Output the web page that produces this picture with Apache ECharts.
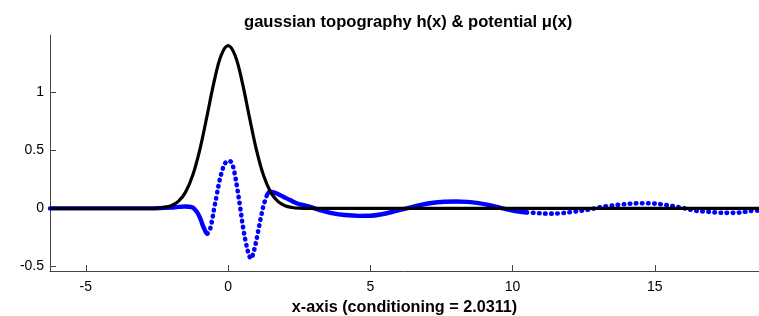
<!DOCTYPE html>
<html>
<head>
<meta charset="utf-8">
<script src="https://cdn.jsdelivr.net/npm/echarts@6/dist/echarts.min.js"></script>
<style>html,body{margin:0;padding:0;background:#fff;}#c{width:759px;height:316px;}</style>
</head>
<body>
<div id="c"></div>
<script>
// topography h(x)
var hX = [-6.26, -5, -4, -3.5, -3, -2.75, -2.5, -2.25, -2, -1.75, -1.5, -1.25, -1, -0.75, -0.5, -0.25, 0, 0.25, 0.5, 0.75, 1, 1.25, 1.5, 1.75, 2, 2.25, 2.5, 2.75, 3, 3.5, 4, 5, 7, 10, 14, 18.66];
var hY = [0, 0, 0, 0, 0, 0.001, 0.002, 0.008, 0.023, 0.060, 0.138, 0.280, 0.499, 0.784, 1.082, 1.313, 1.40, 1.313, 1.082, 0.784, 0.499, 0.280, 0.138, 0.060, 0.023, 0.008, 0.002, 0.001, 0, 0, 0, 0, 0, 0, 0, 0];

// potential mu(x), in four stretches
var muLeftX = [-6.26, -4, -3, -2.4, -2.0, -1.75, -1.5, -1.28, -1.10, -0.98, -0.87, -0.78, -0.73];
var muLeftY = [0, 0, 0, 0.003, 0.008, 0.013, 0.016, 0.012, -0.029, -0.086, -0.158, -0.205, -0.216];
var muCoreX = [-0.73, -0.67, -0.61, -0.54, -0.48, -0.40, -0.31, -0.22, -0.105, 0.03, 0.13, 0.23, 0.33, 0.43, 0.53, 0.63, 0.72, 0.80, 0.88, 0.97, 1.06, 1.15, 1.25, 1.35];
var muCoreY = [-0.216, -0.2, -0.158, -0.072, 0.014, 0.115, 0.23, 0.315, 0.388, 0.41, 0.39, 0.30, 0.16, 0.0, -0.17, -0.30, -0.39, -0.432, -0.39, -0.30, -0.19, -0.08, 0.03, 0.105];
var muMidX = [1.35, 1.47, 1.6, 1.71, 1.94, 2.18, 2.41, 2.65, 2.88, 3.23, 3.69, 4.1, 4.6, 5.0, 5.4, 5.81, 6.28, 6.74, 7.21, 7.6, 8.03, 8.4, 8.8, 9.09, 9.61, 10.0, 10.5];
var muMidY = [0.105, 0.143, 0.138, 0.129, 0.10, 0.072, 0.045, 0.028, 0.013, -0.014, -0.042, -0.057, -0.064, -0.063, -0.05, -0.028, 0, 0.029, 0.049, 0.057, 0.06, 0.056, 0.045, 0.032, 0.003, -0.018, -0.035];
var muTailX = [10.5, 10.96, 11.3, 11.66, 12.14, 12.73, 12.96, 13.31, 13.89, 14.36, 14.6, 14.89, 15.24, 15.63, 16.0, 16.44, 16.83, 17.23, 17.64, 17.9, 18.13, 18.35, 18.66];
var muTailY = [-0.033, -0.042, -0.045, -0.042, -0.028, -0.008, 0.005, 0.02, 0.035, 0.044, 0.045, 0.043, 0.035, 0.02, 0.003, -0.02, -0.028, -0.036, -0.038, -0.037, -0.03, -0.022, -0.018];

var xTicks = [-5, 0, 5, 10, 15];
var yTicks = [-0.5, 0, 0.5, 1];

function pairs(xs, ys) { return xs.map(function (x, i) { return [x, ys[i]]; }); }

var FONT = 'Liberation Sans, Arial, Helvetica, sans-serif';
var BLUE = '#0000ff';
function muSeries(xs, ys, dotted) {
  return {
    type: 'line', data: pairs(xs, ys), smooth: 0.35,
    showSymbol: false, silent: true,
    lineStyle: dotted
      ? { color: BLUE, width: 4.6, type: [0.5, 5.6], cap: 'round' }
      : { color: BLUE, width: 4.4, cap: 'round' }
  };
}

var chart = echarts.init(document.getElementById('c'), null, { renderer: 'canvas' });
chart.setOption({
  animation: false,
  backgroundColor: '#fff',
  title: {
    text: 'gaussian topography h(x) & potential \u03bc(x)',
    left: 239, top: 9,
    textStyle: { fontFamily: FONT, fontSize: 16.6, fontWeight: 'bold', color: '#000' }
  },
  grid: { left: 50, right: 0, top: 35, bottom: 45, containLabel: false, outerBoundsMode: 'none' },
  xAxis: {
    type: 'value', min: -6.26, max: 18.66,
    name: 'x-axis (conditioning = 2.0311)', nameLocation: 'middle', nameGap: 29,
    nameTextStyle: { fontFamily: FONT, fontSize: 16.2, fontWeight: 'bold', color: '#000' },
    axisLine: { show: true, onZero: false, lineStyle: { color: '#444', width: 1 } },
    axisTick: { show: true, inside: true, length: 6, customValues: xTicks, lineStyle: { color: '#444' } },
    axisLabel: { customValues: xTicks, margin: 9, fontFamily: FONT, fontSize: 14, color: '#000' },
    splitLine: { show: false }
  },
  yAxis: {
    type: 'value', min: -0.538, max: 1.491,
    axisLine: { show: true, onZero: false, lineStyle: { color: '#444', width: 1 } },
    axisTick: { show: true, inside: true, length: 6, customValues: yTicks, lineStyle: { color: '#444' } },
    axisLabel: { customValues: yTicks, margin: 6, fontFamily: FONT, fontSize: 14, color: '#000' },
    splitLine: { show: false }
  },
  series: [
    muSeries(muLeftX, muLeftY, false),
    muSeries(muCoreX, muCoreY, true),
    muSeries(muMidX, muMidY, false),
    muSeries(muTailX, muTailY, true),
    {
      type: 'line', data: pairs(hX, hY), smooth: 0.35,
      showSymbol: false, silent: true,
      lineStyle: { color: '#000', width: 3.2 }
    }
  ]
});
</script>
</body>
</html>
